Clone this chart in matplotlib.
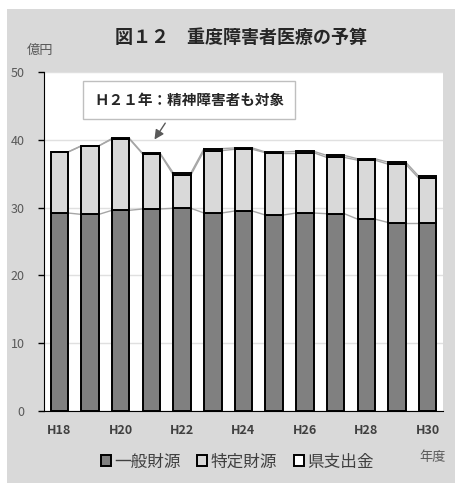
import numpy as np
import matplotlib.pyplot as plt
from matplotlib.patches import Patch, Rectangle

plt.rcParams['font.family'] = ['Noto Sans CJK JP', 'DejaVu Sans']

years = ['H18', 'H19', 'H20', 'H21', 'H22', 'H23', 'H24',
         'H25', 'H26', 'H27', 'H28', 'H29', 'H30']
ippan = [29.2, 29.0, 29.6, 29.8, 29.9, 29.2, 29.5, 28.9, 29.2, 29.1, 28.3, 27.8, 27.8]
tokutei = [9.0, 10.1, 10.5, 8.1, 4.9, 9.2, 9.1, 9.2, 8.9, 8.3, 8.7, 8.6, 6.5]
kenshishutsu = [0.0, 0.0, 0.1, 0.1, 0.3, 0.3, 0.2, 0.1, 0.2, 0.3, 0.2, 0.3, 0.3]

series = [('一般財源', ippan, '#808080'),
          ('特定財源', tokutei, '#d9d9d9'),
          ('県支出金', kenshishutsu, '#ffffff')]

fig = plt.figure(figsize=(4.56, 4.83), dpi=100)
fig.patch.set_facecolor('white')
fig.patches.append(Rectangle((7 / 456, 0.0), 449 / 456, 474 / 483,
                             transform=fig.transFigure, facecolor='#d9d9d9',
                             edgecolor='none', zorder=-1))

ax = fig.add_axes([44 / 456, 1 - 411 / 483, 399 / 456, 339 / 483])
ax.set_facecolor('white')

x = np.arange(len(years))
w = 0.57
bottom = np.zeros(len(years))
for name, vals, col in series:
    vals = np.array(vals)
    ax.bar(x, vals, w, bottom=bottom, color=col, edgecolor='black',
           linewidth=1.4, zorder=3, label=name)
    top = bottom + vals
    # series lines between neighbouring bars
    for i in range(len(years) - 1):
        ax.plot([x[i] + w / 2, x[i + 1] - w / 2], [top[i], top[i + 1]],
                color='#a6a6a6', lw=1.0, zorder=2)
    bottom = top

ax.set_xlim(-0.5, len(years) - 0.5)
ax.set_ylim(0, 50)
ax.set_yticks(range(0, 51, 10))
ax.set_xticks(x[::2])
ax.set_xticklabels(years[::2], fontsize=9, fontweight='bold', color='#404040')
ax.tick_params(axis='x', length=0, pad=9)
ax.tick_params(axis='y', length=4, width=1, color='black', labelsize=9,
               labelcolor='#595959', pad=10)
ax.yaxis.grid(True, color='#e0e0e0', lw=1)
ax.set_axisbelow(True)
for s in ['top', 'right']:
    ax.spines[s].set_visible(False)
ax.spines['left'].set_color('black')
ax.spines['bottom'].set_color('black')

ax.text(4.24, 45.9, 'Ｈ２１年：精神障害者も対象', fontsize=10.5, fontweight='bold',
        ha='center', va='center', color='#262626', zorder=5,
        bbox=dict(boxstyle='square,pad=0.75', facecolor='white',
                  edgecolor='#bfbfbf', lw=1))
ax.annotate('', xy=(3.05, 39.7), xytext=(3.5, 42.8),
            arrowprops=dict(arrowstyle='-|>', color='#595959', lw=1,
                            mutation_scale=14), zorder=5)

fig.text(241 / 456, 1 - 37 / 483, '図１２　重度障害者医療の予算', fontsize=13,
         fontweight='bold', ha='center', va='center', color='#262626')
fig.text(40 / 456, 1 - 50 / 483, '億円', fontsize=9.5, ha='center',
         va='center', color='#595959')
fig.text(433 / 456, 1 - 457 / 483, '年度', fontsize=9.5, ha='center',
         va='center', color='#595959')

handles = [Patch(facecolor=c, edgecolor='black', lw=1.4) for _, _, c in series]
fig.legend(handles, [n for n, _, _ in series], loc='center',
           bbox_to_anchor=(237 / 456, 1 - 462 / 483), ncol=3, frameon=False,
           fontsize=12, handlelength=0.6, handleheight=0.6, handletextpad=0.2,
           columnspacing=1.0, labelcolor='#404040')

fig.savefig('out.png', dpi=100)
